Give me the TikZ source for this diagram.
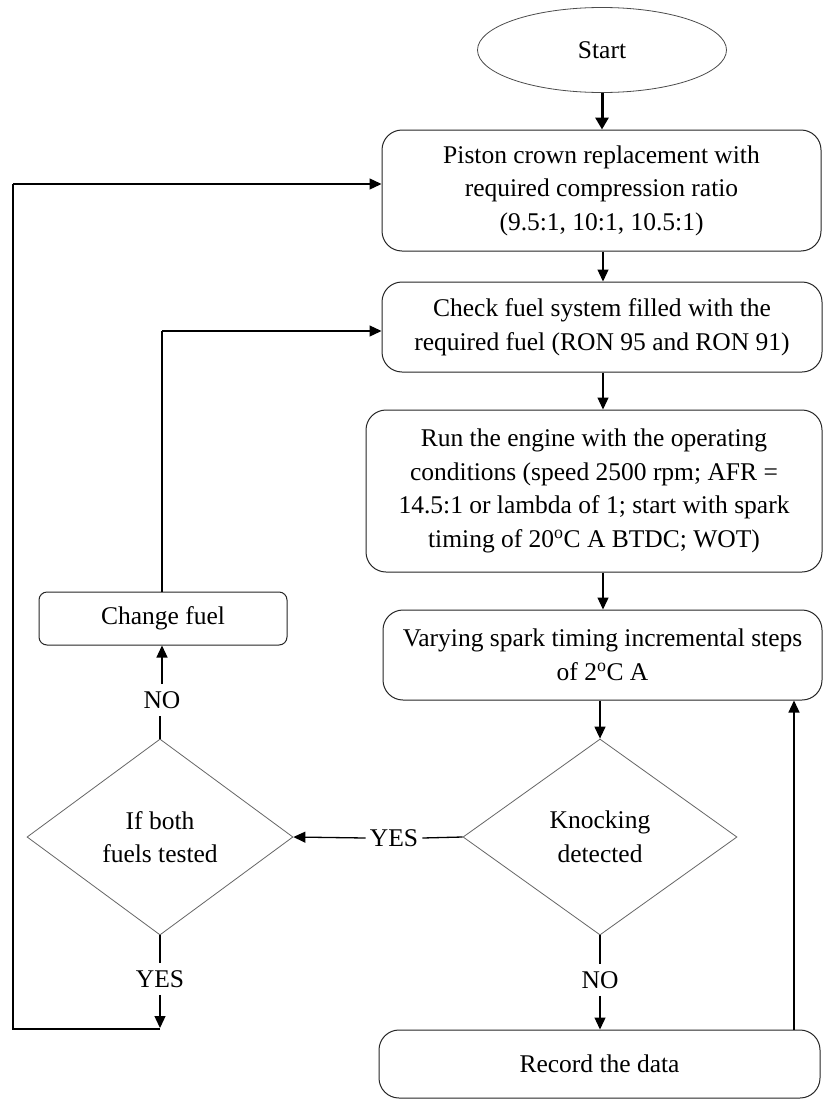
\documentclass[tikz,border=0pt]{standalone}
\usepackage{fontspec}
\setmainfont{Liberation Serif}
\usetikzlibrary{shapes.geometric,arrows.meta,calc}
\begin{document}
\begin{tikzpicture}[x=1pt,y=-1pt,
  every node/.style={font=\fontsize{25.5}{33.5}\selectfont},
  procbox/.style={draw=black!85,line width=1pt,rounded corners=20pt,align=center,inner sep=0pt},
  decbox/.style={draw=black!60,line width=0.8pt,diamond,aspect=1.4,inner sep=0pt,align=center},
  lbl/.style={inner xsep=4pt,inner ysep=7pt},
  arr/.style={line width=1.3pt,-{Triangle[length=12pt,width=11pt]}},
  ln/.style={line width=1.3pt}
]
\useasboundingbox (0,0) rectangle (823,1100);
\fill[white] (0,0) rectangle (823,1100);

\node[draw=black!70,line width=0.8pt,ellipse,minimum width=249pt,minimum height=85pt,inner sep=0pt] (start) at (602,50) {Start};
\node[procbox,minimum width=439pt,minimum height=121pt] (b1) at (601.5,190.5)
  {Piston crown replacement with\\required compression ratio\\(9.5:1, 10:1, 10.5:1)};
\node[procbox,minimum width=440pt,minimum height=90pt] (b2) at (602,327)
  {Check fuel system filled with the\\required fuel (RON 95 and RON 91)};
\node[procbox,minimum width=456pt,minimum height=162pt] (b3) at (594,491)
  {Run the engine with the operating\\conditions (speed 2500 rpm; AFR =\\14.5:1 or lambda of 1; start with spark\\timing of 20\textsuperscript{o}C A BTDC; WOT)};
\node[procbox,minimum width=439pt,minimum height=90pt] (b4) at (602.5,655)
  {Varying spark timing incremental steps\\of 2\textsuperscript{o}C A};
\node[procbox,minimum width=441pt,minimum height=68pt] (rec) at (599.5,1064) {Record the data};
\node[procbox,rounded corners=8pt,minimum width=248pt,minimum height=53pt] (cf) at (163,618.5) {Change fuel};

\node[decbox,minimum width=274pt,minimum height=196pt] (d1) at (600,837) {Knocking\\detected};
\node[decbox,minimum width=266pt,minimum height=196pt] (d2) at (160,837) {If both\\fuels tested};

% labels
\node[lbl] (no1) at (600,980) {NO};
\node[lbl] (yes1) at (394,838) {YES};
\node[lbl] (no2) at (162,700) {NO};
\node[lbl] (yes2) at (160,979) {YES};

\coordinate (ret) at (794,0);
\coordinate (cfx) at (162,331);
\coordinate (loopend) at (160,1028);
\coordinate (loopl) at (13,1029);
\coordinate (loopt) at (13,184);

% main flow
\draw[line width=3pt,-{Triangle[length=12pt,width=13pt]}] (start.south) -- (b1.north -| start.south);
\draw[arr] (b1.south -| 603,0) -- (b2.north -| 603,0);
\draw[arr] (b2.south -| 603,0) -- (b3.north -| 603,0);
\draw[arr] (b3.south -| 603,0) -- (b4.north -| 603,0);
\draw[arr] (b4.south -| d1.north) -- (d1.north);

\draw[ln] (d1.south) -- (no1.north);
\draw[arr] (no1.south) -- (rec.north -| no1.south);
\draw[arr] (rec.north -| ret) -- (b4.south -| ret);

\draw[ln] (d1.west) -- (yes1.east);
\draw[arr] (yes1.west) -- (d2.east);

\draw[ln] (d2.north) -- (no2.south -| d2.north);
\draw[arr] (no2.north) -- (cf.south -| no2.north);
\draw[ln] (cf.north -| cfx) -- (cfx);
\draw[arr] (cfx) -- (cfx -| b2.west);

\draw[ln] (d2.south) -- (yes2.north);
\draw[arr] (yes2.south) -- (loopend);
\draw[ln] (160,1029) -- (loopl) -- (loopt);
\draw[arr] (loopt) -- (loopt -| b1.west);
\end{tikzpicture}
\end{document}
